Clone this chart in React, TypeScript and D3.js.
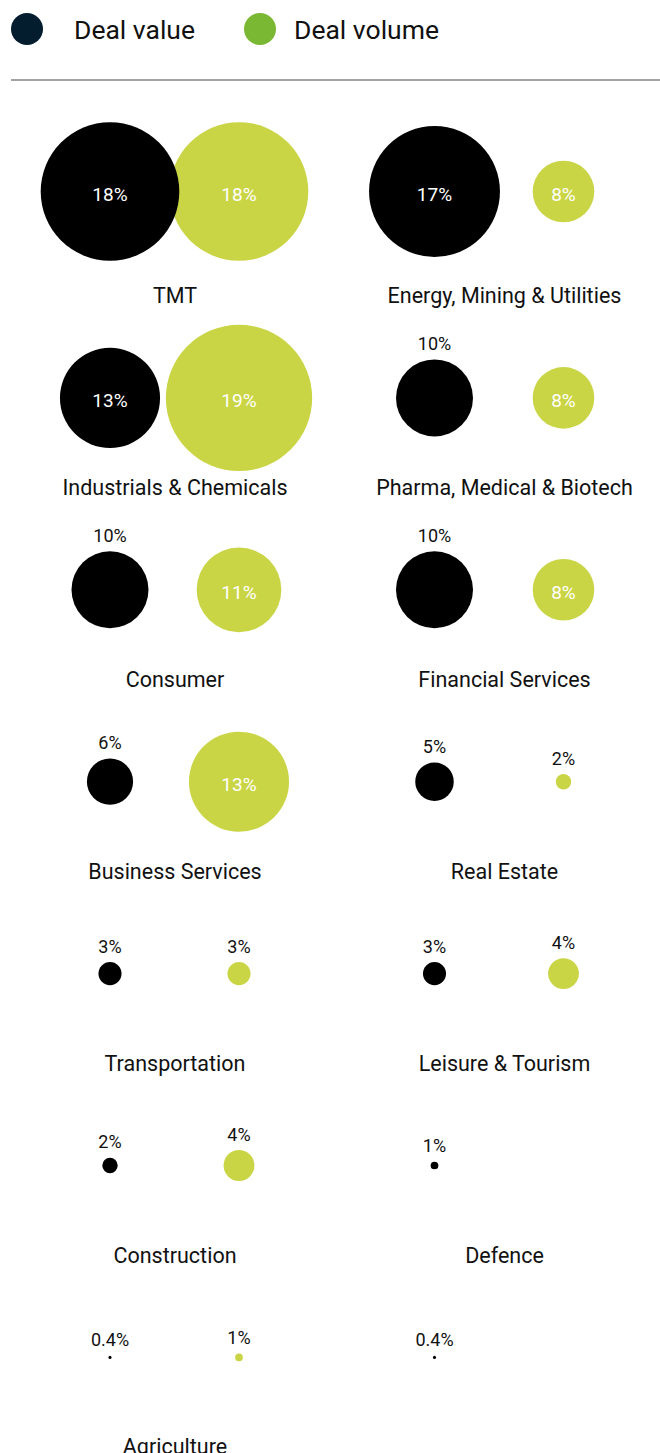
import React from "react";
import * as d3 from "d3";

// ---- Data ----
const categories = [
  "TMT",
  "Energy, Mining & Utilities",
  "Industrials & Chemicals",
  "Pharma, Medical & Biotech",
  "Consumer",
  "Financial Services",
  "Business Services",
  "Real Estate",
  "Transportation",
  "Leisure & Tourism",
  "Construction",
  "Defence",
  "Agriculture",
  "",
];
const dealValue: (number | null)[] = [18, 17, 13, 10, 10, 10, 6, 5, 3, 3, 2, 1, 0.4, 0.4];
const dealVolume: (number | null)[] = [18, 8, 19, 8, 11, 8, 13, 2, 3, 4, 4, null, 1, null];
const seriesNames = ["Deal value", "Deal volume"];

// ---- Styles / layout ----
const W = 660;
const H = 1453;
const FONT = "Roboto, 'Noto Sans', sans-serif";
const valueColor = "#000000";
const volumeColor = "#cad546";
const legendColors = ["#031d2e", "#7ab733"];
const insideMin = { value: 11, volume: 8 };

const fmt = (v: number) => `${v}%`;

export default function App() {
  const r = d3.scaleLinear().domain([0, 19]).range([0, 73.15]);
  const nRows = Math.ceil(categories.length / 2);
  const rowScale = d3
    .scaleLinear()
    .domain([0, nRows - 1])
    .range([303, 303 + (nRows - 1) * 191.9]);
  const colCenter = d3.scalePoint<number>().domain([0, 1]).range([174.5, 499]);
  const labelCol = d3.scalePoint<number>().domain([0, 1]).range([175, 504.5]);
  const sep = 64.5;

  const items = categories.map((name, i) => {
    const row = Math.floor(i / 2);
    const col = i % 2;
    return { name, row, col, value: dealValue[i], volume: dealVolume[i] };
  });

  const rowHasAbove = (row: number) =>
    items
      .filter((d) => d.row === row)
      .some(
        (d) =>
          (d.value != null && d.value < insideMin.value) ||
          (d.volume != null && d.volume < insideMin.volume)
      );

  const rowCy = (row: number) => rowScale(row) - 97 - (rowHasAbove(row) ? 0 : 14.5);

  const bubble = (
    v: number | null,
    cx: number,
    cy: number,
    color: string,
    min: number,
    key: string
  ) => {
    if (v == null) return null;
    const rr = r(v);
    const inside = v >= min;
    return (
      <g key={key}>
        <circle cx={cx} cy={cy} r={rr} fill={color} />
        {inside ? (
          <text
            x={cx}
            y={cy + 9.5}
            textAnchor="middle"
            fontSize={19}
            fill="#ffffff"
            fontFamily={FONT}
          >
            {fmt(v)}
          </text>
        ) : (
          <text
            x={cx}
            y={cy - rr - 9.5}
            textAnchor="middle"
            fontSize={18}
            fill="#111111"
            fontFamily={FONT}
          >
            {fmt(v)}
          </text>
        )}
      </g>
    );
  };

  const legendX = [27, 260];
  const legendTextX = [74, 294];

  return (
    <svg
      width={W}
      height={H}
      viewBox={`0 0 ${W} ${H}`}
      style={{ position: "absolute", left: 0, top: 0, background: "#fff" }}
    >
      <rect width={W} height={H} fill="#fff" />
      {/* Legend */}
      {seriesNames.map((s, i) => (
        <g key={s}>
          <circle cx={legendX[i]} cy={29} r={16} fill={legendColors[i]} />
          <text x={legendTextX[i]} y={38.5} fontSize={26.5} fill="#111" fontFamily={FONT}>
            {s}
          </text>
        </g>
      ))}
      <line x1={11} x2={W} y1={80} y2={80} stroke="#a3a3a3" strokeWidth={2} />

      {items.map((d, i) => {
        const cy = rowCy(d.row);
        const cc = colCenter(d.col)!;
        return (
          <g key={i}>
            {bubble(d.volume, cc + sep, cy, volumeColor, insideMin.volume, "vol")}
            {bubble(d.value, cc - sep, cy, valueColor, insideMin.value, "val")}
            {d.name && (
              <text
                x={labelCol(d.col)}
                y={rowScale(d.row)}
                textAnchor="middle"
                fontSize={21.5}
                fill="#111"
                fontFamily={FONT}
              >
                {d.name}
              </text>
            )}
          </g>
        );
      })}
    </svg>
  );
}
